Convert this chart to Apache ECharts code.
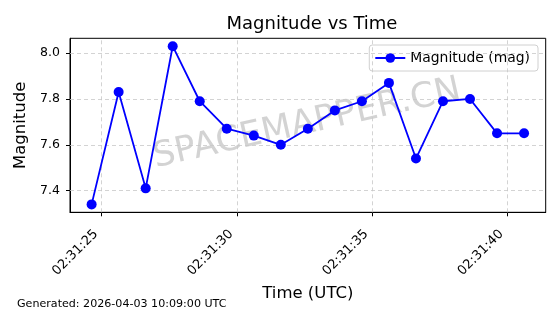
<!DOCTYPE html>
<html>
<head>
<meta charset="utf-8">
<script src="https://cdn.jsdelivr.net/npm/echarts@6/dist/echarts.min.js"></script>
<style>html,body{margin:0;padding:0;background:#fff}#c{width:560px;height:314px}</style>
</head>
<body>
<div id="c"></div>
<script>
// Seconds after 02:31:00 UTC
const timesSec = [24.63,25.63,26.63,27.63,28.63,29.63,30.63,31.63,32.63,33.63,34.63,35.63,36.63,37.63,38.63,39.63,40.63];
const magnitudes = [7.34,7.83,7.41,8.03,7.79,7.67,7.64,7.60,7.67,7.75,7.79,7.87,7.54,7.79,7.80,7.65,7.65];
const xTicks = [25,30,35,40];
const yTicks = [7.4,7.6,7.8,8.0];
const xRange = [23.83, 41.43];
const yRange = [7.3055, 8.0645];

function fmtTime(v){
  const s = Math.round(v);
  return '02:31:' + String(s).padStart(2,'0');
}
const F = 'DejaVu Sans';
const chart = echarts.init(document.getElementById('c'), null, {renderer:'canvas'});
chart.setOption({
  animation:false,
  backgroundColor:'#fff',
  textStyle:{fontFamily:F},
  title:{text:'Magnitude vs Time', left:307, top:10, textAlign:'center',
    textStyle:{fontFamily:F,fontSize:18,fontWeight:'normal',color:'#000'}},
  grid:{left:70,right:14.3,top:38.3,bottom:101.7,show:true,borderColor:'#000',borderWidth:1,containLabel:false},
  legend:{right:22,top:45,orient:'horizontal',itemWidth:30,itemHeight:12,itemGap:6,
    padding:[6,8,6,5],borderColor:'#d0d0d0',borderWidth:1,borderRadius:3,backgroundColor:'rgba(255,255,255,0.8)',
    textStyle:{fontFamily:F,fontSize:13.9,color:'#000'},data:['Magnitude (mag)']},
  xAxis:{type:'value',min:xRange[0],max:xRange[1],
    name:'Time (UTC)',nameLocation:'middle',nameGap:69,
    nameTextStyle:{fontFamily:F,fontSize:16.5,color:'#000'},
    axisLine:{lineStyle:{color:'#000',width:1}},
    axisTick:{show:true,inside:false,length:4,customValues:xTicks,lineStyle:{color:'#000'}},
    axisLabel:{customValues:xTicks,rotate:45,formatter:fmtTime,fontFamily:F,fontSize:13,color:'#000',margin:14,padding:[0,8,0,0]},
    splitLine:{show:false}},
  yAxis:{type:'value',min:yRange[0],max:yRange[1],
    name:'Magnitude',nameLocation:'middle',nameGap:33,nameRotate:90,
    nameTextStyle:{fontFamily:F,fontSize:16.5,color:'#000'},
    axisLine:{show:true,lineStyle:{color:'#000',width:1}},
    axisTick:{show:true,inside:false,length:4,customValues:yTicks,lineStyle:{color:'#000'}},
    axisLabel:{customValues:yTicks,formatter:v=>v.toFixed(1),fontFamily:F,fontSize:12.5,color:'#000',margin:10},
    splitLine:{show:false}},
  series:[{
    name:'Magnitude (mag)',type:'line',
    data:timesSec.map((t,i)=>[t,magnitudes[i]]),
    symbol:'circle',symbolSize:10,
    lineStyle:{color:'#0000ff',width:1.8},
    itemStyle:{color:'#0000ff'},
    z:5,
    markLine:{silent:true,symbol:'none',label:{show:false},
      lineStyle:{type:[4,3],color:'#c8c8c8',width:0.8},
      data:[...xTicks.map(v=>({xAxis:v})),...yTicks.map(v=>({yAxis:v}))]}
  }],
  graphic:[
    {type:'text',left:17,top:299,style:{text:'Generated: 2026-04-03 10:09:00 UTC',fontFamily:F,fontSize:11.1,fill:'#000'}},
    {type:'text',x:307,y:124,rotation:12.6*Math.PI/180,z:1,
      style:{text:'SPACEMAPPER.CN',fontFamily:F,fontSize:35,fill:'rgba(128,128,128,0.35)',align:'center',verticalAlign:'middle'}}
  ]
});
</script>
</body>
</html>
